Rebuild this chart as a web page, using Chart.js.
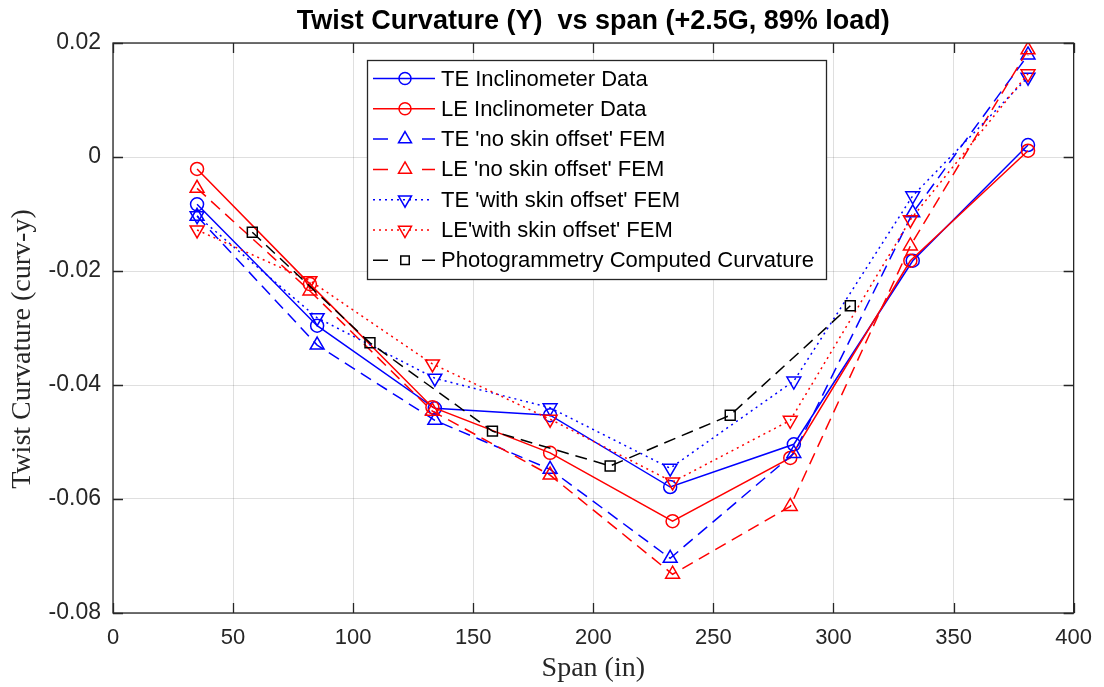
<!DOCTYPE html>
<html>
<head>
<meta charset="utf-8">
<script src="https://cdn.jsdelivr.net/npm/chart.js@4"></script>
<style>
	body { margin: 0; background: #ffffff; }
	#wrap { width: 1104px; height: 687px; }
</style>
</head>
<body>
<div id="wrap"><canvas id="twistChart" width="1104" height="687"></canvas></div>
<script>
// span stations (in)
var teSpan = [35, 85, 134, 182, 232, 283.5, 333, 381];
var leSpan = [35, 82, 133, 182, 233, 282, 332, 381];
var photoSpan = [58, 107, 158, 207, 257, 307];

// twist curvature values (curv-y)
var teInclinometer = [-0.0083, -0.0296, -0.0441, -0.0453, -0.0579, -0.0504, -0.0182, 0.0021];
var leInclinometer = [-0.0021, -0.0223, -0.0439, -0.0519, -0.0639, -0.0528, -0.0182, 0.0011];
var teNoSkinOffset = [-0.0104, -0.0330, -0.0462, -0.0548, -0.0704, -0.0520, -0.0098, 0.0179];
var leNoSkinOffset = [-0.0055, -0.0235, -0.0446, -0.0558, -0.0732, -0.0613, -0.0156, 0.0188];
var teWithSkinOffset = [-0.0103, -0.0282, -0.0388, -0.0440, -0.0546, -0.0393, -0.0068, 0.0140];
var leWithSkinOffset = [-0.0128, -0.0217, -0.0363, -0.0460, -0.0570, -0.0462, -0.0110, 0.0146];
var photoCurvature = [-0.0132, -0.0326, -0.0481, -0.0542, -0.0453, -0.0261];

var seriesLabels = [
	'TE Inclinometer Data',
	'LE Inclinometer Data',
	'TE \'no skin offset\' FEM',
	'LE \'no skin offset\' FEM',
	'TE \'with skin offset\' FEM',
	'LE\'with skin offset\' FEM',
	'Photogrammetry Computed Curvature'
];

var xTicks = [0, 50, 100, 150, 200, 250, 300, 350, 400];
var yTicks = [-0.08, -0.06, -0.04, -0.02, 0, 0.02];

var axisColor = '#262626';
var dashed = [12, 7];
var dotted = [2, 4];

function toPoints(xs, ys) {
	var pts = [];
	for (var i = 0; i < xs.length; i++) {
		pts.push({ x: xs[i], y: ys[i] });
	}
	return pts;
}

function makeSeries(idx, xs, ys, color, dash, style, rotation, radius) {
	return {
		label: seriesLabels[idx],
		data: toPoints(xs, ys),
		borderColor: color,
		backgroundColor: 'rgba(0,0,0,0)',
		borderWidth: 1.5,
		borderDash: dash,
		tension: 0,
		pointStyle: style,
		pointRotation: rotation,
		pointRadius: radius,
		pointHoverRadius: radius,
		pointBorderColor: color,
		pointBackgroundColor: 'rgba(0,0,0,0)',
		pointBorderWidth: 1.5,
		order: 10 - idx,
		legendKind: dash.length == 0 ? 'solid' : (dash[0] > 4 ? 'dashed' : 'dotted')
	};
}

var datasets = [
	makeSeries(0, teSpan, teInclinometer, '#0000ff', [], 'circle', 0, 6.5),
	makeSeries(1, leSpan, leInclinometer, '#ff0000', [], 'circle', 0, 6.5),
	makeSeries(2, teSpan, teNoSkinOffset, '#0000ff', dashed, 'triangle', 0, 8),
	makeSeries(3, leSpan, leNoSkinOffset, '#ff0000', dashed, 'triangle', 0, 8),
	makeSeries(4, teSpan, teWithSkinOffset, '#0000ff', dotted, 'triangle', 180, 8),
	makeSeries(5, leSpan, leWithSkinOffset, '#ff0000', dotted, 'triangle', 180, 8),
	makeSeries(6, photoSpan, photoCurvature, '#000000', dashed, 'rect', 0, 7)
];

// axes box with inward ticks, title and axis titles (MATLAB look)
var framePlugin = {
	id: 'frame',
	afterDatasetsDraw: function (chart) {
		var ctx = chart.ctx;
		var a = chart.chartArea;
		var xs = chart.scales.x;
		var ys = chart.scales.y;
		ctx.save();
		ctx.strokeStyle = axisColor;
		ctx.lineWidth = 1.3;
		ctx.setLineDash([]);
		ctx.strokeRect(a.left, a.top, a.right - a.left, a.bottom - a.top);
		ctx.beginPath();
		for (var i = 0; i < xTicks.length; i++) {
			var px = Math.round(xs.getPixelForValue(xTicks[i])) + 0.5;
			ctx.moveTo(px, a.bottom);
			ctx.lineTo(px, a.bottom - 10);
			ctx.moveTo(px, a.top);
			ctx.lineTo(px, a.top + 10);
		}
		for (var j = 0; j < yTicks.length; j++) {
			var py = Math.round(ys.getPixelForValue(yTicks[j])) + 0.5;
			ctx.moveTo(a.left, py);
			ctx.lineTo(a.left + 10, py);
			ctx.moveTo(a.right, py);
			ctx.lineTo(a.right - 10, py);
		}
		ctx.stroke();

		var cx = (a.left + a.right) / 2;
		ctx.fillStyle = '#000000';
		ctx.textAlign = 'center';
		ctx.textBaseline = 'middle';
		ctx.font = 'bold 27px "Liberation Sans", Arial, sans-serif';
		ctx.fillText('Twist Curvature (Y)  vs span (+2.5G, 89% load)', cx, 22);

		ctx.fillStyle = axisColor;
		ctx.font = '28px "Liberation Serif", "Times New Roman", serif';
		ctx.fillText('Span (in)', cx, 669);
		ctx.translate(23, 349);
		ctx.rotate(-Math.PI / 2);
		ctx.fillText('Twist Curvature (curv-y)', 0, 0);
		ctx.restore();
	},
	afterDraw: function (chart) {
		var ctx = chart.ctx;
		var left = 367, top = 60, right = 826, bottom = 279;
		ctx.save();
		ctx.fillStyle = '#ffffff';
		ctx.fillRect(left, top, right - left, bottom - top);
		ctx.strokeStyle = axisColor;
		ctx.lineWidth = 1.3;
		ctx.setLineDash([]);
		ctx.strokeRect(left + 0.5, top + 0.5, right - left, bottom - top);

		ctx.font = '22px "Liberation Sans", Arial, sans-serif';
		ctx.textAlign = 'left';
		ctx.textBaseline = 'middle';
		for (var i = 0; i < datasets.length; i++) {
			var ds = datasets[i];
			var y = 78.5 + i * 30.3;
			ctx.strokeStyle = ds.borderColor;
			ctx.lineWidth = 1.5;
			ctx.beginPath();
			if (ds.legendKind == 'dashed') {
				ctx.setLineDash([]);
				ctx.moveTo(373, y);
				ctx.lineTo(388, y);
				ctx.moveTo(422, y);
				ctx.lineTo(435, y);
			} else if (ds.legendKind == 'dotted') {
				ctx.setLineDash(dotted);
				ctx.moveTo(373, y);
				ctx.lineTo(433, y);
			} else {
				ctx.setLineDash([]);
				ctx.moveTo(373, y);
				ctx.lineTo(435, y);
			}
			ctx.stroke();
			ctx.setLineDash([]);
			ctx.fillStyle = 'rgba(0,0,0,0)';
			ctx.strokeStyle = ds.borderColor;
			Chart.helpers.drawPoint(ctx, {
				pointStyle: ds.pointStyle,
				rotation: ds.pointRotation,
				radius: ds.pointStyle == 'rect' ? 6 : ds.pointRadius - 0.5,
				borderWidth: 1.5
			}, 405, y);
			ctx.fillStyle = '#000000';
			ctx.fillText(ds.label, 441, y + 1);
		}
		ctx.restore();
	}
};

var config = {
	type: 'line',
	data: { datasets: datasets },
	options: {
		responsive: false,
		animation: false,
		layout: { padding: { top: 43, right: 24, left: 0, bottom: 0 } },
		plugins: {
			legend: { display: false },
			title: { display: false },
			tooltip: { enabled: false }
		},
		scales: {
			x: {
				type: 'linear',
				min: 0,
				max: 400,
				afterFit: function (scale) { scale.height = 74; },
				afterBuildTicks: function (scale) {
					scale.ticks = xTicks.map(function (v) { return { value: v }; });
				},
				ticks: {
					color: axisColor,
					font: { family: '"Liberation Sans", Arial, sans-serif', size: 22 },
					padding: 12,
					maxRotation: 0,
					callback: function (v) { return String(v); }
				},
				grid: { color: 'rgba(38,38,38,0.15)', drawTicks: false, lineWidth: 1 },
				border: { display: false }
			},
			y: {
				type: 'linear',
				min: -0.08,
				max: 0.02,
				afterFit: function (scale) { scale.width = 113; },
				afterBuildTicks: function (scale) {
					scale.ticks = yTicks.map(function (v) { return { value: v }; });
				},
				ticks: {
					color: axisColor,
					font: { family: '"Liberation Sans", Arial, sans-serif', size: 23 },
					padding: 12,
					callback: function (v) { return Math.abs(v) < 1e-9 ? '0' : v.toFixed(2); }
				},
				grid: { color: 'rgba(38,38,38,0.15)', drawTicks: false, lineWidth: 1 },
				border: { display: false }
			}
		}
	},
	plugins: [framePlugin]
};

var twistChart = new Chart(document.getElementById('twistChart'), config);
</script>
</body>
</html>
